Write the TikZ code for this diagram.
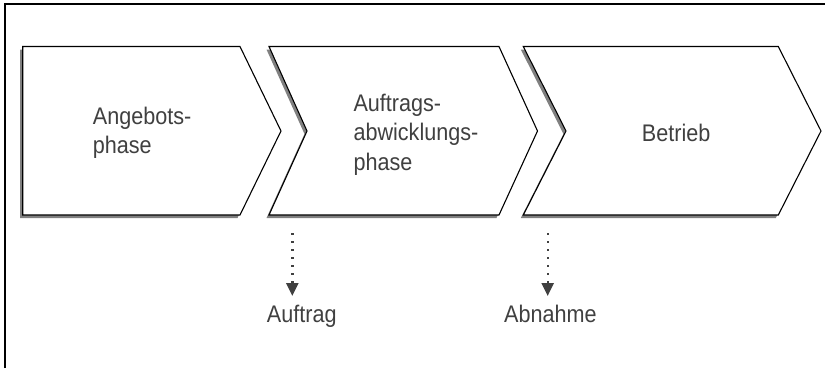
\documentclass[tikz,border=0pt]{standalone}
\usepackage{fontspec}
\setmainfont{Liberation Sans}[FakeStretch=0.9]
\usetikzlibrary{arrows.meta}
\definecolor{txtgray}{HTML}{404040}
\definecolor{shadowgray}{HTML}{808080}
\tikzset{
  phase/.style={draw=black, fill=white, line width=1.1pt, line join=miter},
  phaseshadow/.style={fill=shadowgray, draw=none},
  label/.style={inner sep=0pt, text=txtgray, align=left,
    font=\fontsize{24}{29.5}\selectfont},
  milestone/.style={draw=txtgray, line width=2.4pt, dash pattern=on 2.4pt off 5.6pt,
    -{Triangle[length=13pt,width=12pt]}}
}
\begin{document}
\begin{tikzpicture}[x=1pt,y=-1pt]
  \useasboundingbox (0,0) rectangle (825,368);
  % frame (top and left edges)
  \draw[line width=1.5pt] (5,368) -- (5,4) -- (825,4);

  % drop shadows of the three phases
  \begin{scope}[shift={(-2.5,3)}]
    \fill[phaseshadow] (22.7,46.5) -- (240,46.5) -- (281,131) -- (240,215) -- (22.7,215) -- cycle;
    \fill[phaseshadow] (269,46.5) -- (499,46.5) -- (537.5,131) -- (499,215) -- (269,215) -- (307,131) -- cycle;
    \fill[phaseshadow] (523.3,46.5) -- (778.3,46.5) -- (821,131) -- (778.3,215) -- (523.3,215) -- (566,131) -- cycle;
  \end{scope}

  % phase chevrons
  \draw[phase] (22.7,46.5) -- (240,46.5) -- (281,131) -- (240,215) -- (22.7,215) -- cycle;
  \draw[phase] (269,46.5) -- (499,46.5) -- (537.5,131) -- (499,215) -- (269,215) -- (307,131) -- cycle;
  \draw[phase] (523.3,46.5) -- (778.3,46.5) -- (821,131) -- (778.3,215) -- (523.3,215) -- (566,131) -- cycle;

  % phase names (base anchor sits on the last line)
  \node[label, anchor=base west] (angebot) at (92.7,153.5) {Angebots-\\phase};
  \node[label, anchor=base west] (abwicklung) at (353.3,170) {Auftrags-\\abwicklungs-\\phase};
  \node[label, anchor=base west] (betrieb) at (641.7,141.7) {Betrieb};

  % milestones
  \node[label, anchor=base west] (auftrag) at (266.7,322.7) {Auftrag};
  \node[label, anchor=base west] (abnahme) at (504,322.7) {Abnahme};
  \coordinate (startA) at (292.3,233);
  \coordinate (startB) at (547.7,233);
  \draw[milestone] (startA) -- (startA |- 0,296);
  \draw[milestone] (startB) -- (startB |- 0,296);
\end{tikzpicture}
\end{document}
